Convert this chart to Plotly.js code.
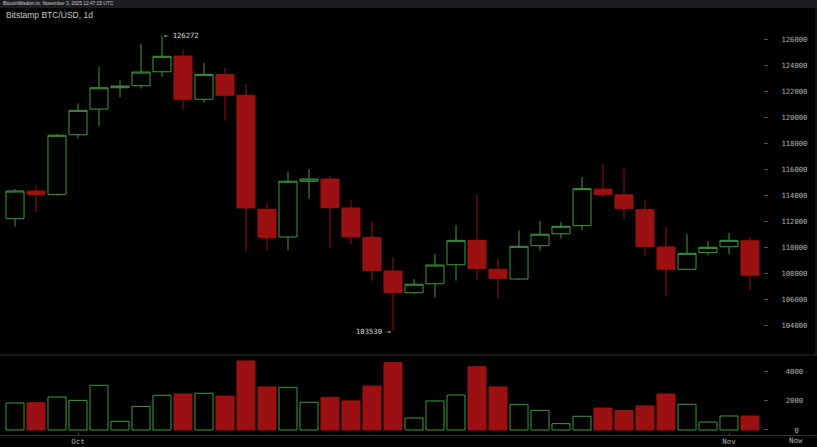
<!DOCTYPE html>
<html><head><meta charset="utf-8">
<script src="https://cdn.plot.ly/plotly-3.0.1.min.js"></script>
<style>html,body{margin:0;padding:0;background:#000;overflow:hidden}#chart{width:817px;height:447px}</style>
</head><body><div id="chart"></div>
<script>
// Bitstamp BTC/USD daily candles, Sep 29 - Nov 3 2025
const dates = ['09-29','09-30','10-01','10-02','10-03','10-04','10-05','10-06','10-07','10-08','10-09','10-10',
  '10-11','10-12','10-13','10-14','10-15','10-16','10-17','10-18','10-19','10-20','10-21','10-22',
  '10-23','10-24','10-25','10-26','10-27','10-28','10-29','10-30','10-31','11-01','11-02','11-03'];
const openP  = [112190,114320,114060,118650,120630,122270,122430,123500,124710,121380,123300,121690,
  112910,110780,115070,115240,113010,110750,108160,106490,107180,108640,110520,108290,
  107540,110110,111030,111650,114470,114030,112880,110010,108290,109570,110030,110490];
const highP  = [114450,114780,118710,121070,123890,122840,125660,126272,125230,124180,123790,122560,
  113370,115800,116010,115470,113630,111960,109240,107540,109470,111680,114030,109160,
  111290,112010,111930,115400,116400,116010,113630,111550,110990,110450,111090,110720];
const lowP   = [111570,112700,113960,118350,119320,121530,122200,123120,120630,121100,119730,109650,
  109720,109720,113730,109950,110240,107410,103530,106370,106100,107410,107410,106060,
  107470,109720,110650,111260,113860,112160,109260,106260,108260,109340,109470,106700];
const closeP = [114320,114030,118610,120530,122270,122400,123480,124690,121380,123300,121690,113010,
  110720,115070,115240,113030,110780,108180,106490,107140,108620,110520,108340,107570,
  110060,110990,111600,114500,114030,112960,110030,108290,109520,109980,110520,107830];
const volume = [1830,1850,2240,2010,3030,590,1600,2350,2440,2490,2300,4680,
  2920,2890,1880,2210,1970,2980,4570,810,1970,2370,4290,2920,
  1720,1330,430,930,1490,1330,1630,2440,1740,540,950,950];
const priceTicks = [104000,106000,108000,110000,112000,114000,116000,118000,120000,122000,124000,126000];
const volumeTicks = [0,2000,4000];
const volumeTickText = ['\u00a0\u00a0\u00a00','\u00a02000','\u00a04000'];
const monthTickDates = ['10-02','11-02'];
const monthTickText = ['Oct','Nov'];
const maxLabel = '\u2190 126272';
const minLabel = '103530 \u2192';
const headerText = 'BitcoinWisdom.io, November 3, 2025 12:47:15 UTC';
const titleText = 'Bitstamp BTC/USD, 1d';

const idx = dates.map((d,i)=>i);
const maxI = highP.indexOf(Math.max(...highP));
const minI = lowP.indexOf(Math.min(...lowP));

const RED = '#9b1111', GREEN = '#3f9b3f';
const up = closeP.map((c,i)=>c>=openP[i]);

const W = 817, H = 447, mL = 0, mR = 54, mT = 8, mB = 15;
const plotW = W - mL - mR, plotH = H - mT - mB;
const px = v => v / plotW, py = yPix => (H - mB - yPix) / plotH;

const mono = 'DejaVu Sans Mono, monospace';
const traces = [
  {type:'candlestick', x: idx, open: openP, high: highP, low: lowP, close: closeP,
   xaxis:'x', yaxis:'y', whiskerwidth:0, hoverinfo:'skip',
   increasing:{line:{color:GREEN, width:1}, fillcolor:'rgba(0,0,0,0)'},
   decreasing:{line:{color:RED, width:1}, fillcolor:RED}},
  {type:'bar', x: idx, y: volume, xaxis:'x', yaxis:'y2', hoverinfo:'skip',
   marker:{color: up.map(u=>u?'rgba(0,0,0,0)':RED),
           line:{color: up.map(u=>u?GREEN:RED), width:1}}}
];

const layout = {
  width: W, height: H, margin:{l:mL, r:mR, t:mT, b:mB},
  paper_bgcolor:'#000', plot_bgcolor:'#000', showlegend:false,
  boxgap:0.14, boxgroupgap:0, bargap:0.14,
  title:{text:titleText, x:6/W, xanchor:'left', xref:'container', y:1-15.5/H, yanchor:'middle',
         font:{family:'Liberation Sans, Arial, sans-serif', size:8.5, color:'#c8c8c8'}},
  xaxis:{anchor:'y2', range:[-15/21, (plotW-15)/21], rangeslider:{visible:false},
         tickvals: monthTickDates.map(d=>dates.indexOf(d)), ticktext: monthTickText,
         ticks:'outside', ticklen:2, tickcolor:'#555', showgrid:false, zeroline:false, showline:false,
         tickfont:{family:mono, size:7.5, color:'#aaaaaa'}, fixedrange:true},
  yaxis:{domain:[py(353.9),1], range:[101776,128410], side:'right', tickvals:priceTicks,
         ticktext: priceTicks.map(String),
         ticks:'outside', ticklen:4, tickcolor:'#555', showgrid:false, zeroline:false, showline:false,
         ticklabelstandoff:12, tickfont:{family:mono, size:7.2, color:'#b4b4b4'}, fixedrange:true},
  yaxis2:{domain:[0,py(355)], range:[-136,5085], side:'right', tickvals:volumeTicks, ticktext:volumeTickText,
         ticks:'outside', ticklen:4, tickcolor:'#555', showgrid:false, zeroline:false, showline:false,
         ticklabelstandoff:12, tickfont:{family:mono, size:7.2, color:'#b4b4b4'}, fixedrange:true},
  shapes:[
    {type:'rect', xref:'paper', yref:'paper', x0:0, x1:px(W), y0:1, y1:1+mT/plotH,
     fillcolor:'#1d1d21', line:{width:0}, layer:'below'},
    {type:'line', xref:'paper', yref:'paper', x0:0, x1:px(W), y0:py(355), y1:py(355),
     line:{color:'#333', width:1}, layer:'below'},
    {type:'line', xref:'paper', yref:'paper', x0:0, x1:px(W), y0:py(435.5), y1:py(435.5),
     line:{color:'#333', width:1}, layer:'below'},
    {type:'line', xref:'paper', yref:'paper', x0:px(816), x1:px(816), y0:py(8), y1:py(355),
     line:{color:'#2a2a2a', width:1}, layer:'below'}
  ],
  annotations:[
    {xref:'paper', yref:'paper', x:px(1), y:py(3.6), xanchor:'left', yanchor:'middle', showarrow:false,
     text:headerText, font:{family:'Liberation Sans, Arial, sans-serif', size:4.8, color:'#d0d0d0'}},
    {xref:'x', yref:'y', x:maxI, y:highP[maxI], xanchor:'left', yanchor:'middle', showarrow:false,
     text:maxLabel, font:{family:mono, size:7.2, color:'#dddddd'}},
    {xref:'x', yref:'y', x:minI, y:lowP[minI], xanchor:'right', yanchor:'middle', showarrow:false,
     text:minLabel, font:{family:mono, size:7.2, color:'#dddddd'}},
    {xref:'paper', yref:'paper', x:px(796), y:py(441), xanchor:'center', yanchor:'middle', showarrow:false,
     text:'Now', font:{family:mono, size:7.5, color:'#aaaaaa'}}
  ]
};
Plotly.newPlot('chart', traces, layout, {displayModeBar:false, staticPlot:true});
</script></body></html>
